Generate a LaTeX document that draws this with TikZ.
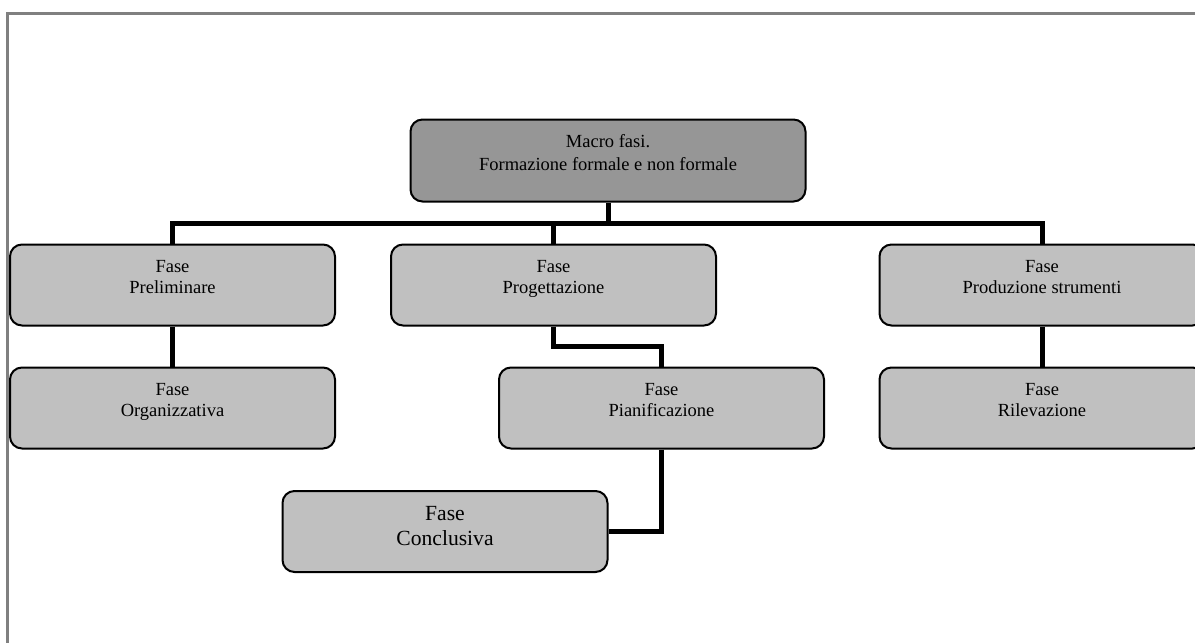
\documentclass[tikz,border=0pt]{standalone}
\usepackage{fontspec}
\setmainfont{Liberation Serif}
\definecolor{framegray}{HTML}{808080}
\definecolor{macrogray}{HTML}{969696}
\definecolor{boxgray}{HTML}{C0C0C0}
\begin{document}
\begin{tikzpicture}[x=1pt,y=-1pt,
  box/.style={draw=black, line width=2pt, rounded corners=12pt, fill=boxgray,
    minimum width=325pt, minimum height=81pt, inner sep=0pt},
  macrobox/.style={box, fill=macrogray, minimum width=395pt, minimum height=82pt},
  conn/.style={line width=5pt, draw=black},
  lbl/.style={align=center, inner sep=0pt, font=\fontsize{18.5}{21.3}\selectfont},
  biglbl/.style={align=center, inner sep=0pt, font=\fontsize{21.6}{25}\selectfont},
  macrolbl/.style={align=center, inner sep=0pt, font=\fontsize{18.5}{23.4}\selectfont}]
\useasboundingbox (0,0) rectangle (1195,643);
% outer frame
\draw[framegray, line width=3pt] (7.5,700) -- (7.5,13.5) -- (1260,13.5);
% boxes
\node[macrobox] (macro) at (608,160.5) {};
\node[box] (pre)   at (172.5,285) {};
\node[box] (prog)  at (553.5,285) {};
\node[box] (prod)  at (1042,285) {};
\node[box] (org)   at (172.5,408) {};
\node[box] (pian)  at (661.5,408) {};
\node[box] (ril)   at (1042,408) {};
\node[box] (concl) at (445,531.5) {};
% texts
\node[macrolbl] (macroT) at ([yshift=5.8pt]macro.center) {Macro fasi.\\Formazione formale e non formale\vphantom{g}};
\node[lbl] (preT)  at ([yshift=5.8pt]pre.center)  {Fase\\Preliminare\vphantom{g}};
\node[lbl] (progT) at ([yshift=5.8pt]prog.center) {Fase\\Progettazione\vphantom{g}};
\node[lbl] (prodT) at ([yshift=5.8pt]prod.center) {Fase\\Produzione strumenti\vphantom{g}};
\node[lbl] (orgT)  at ([yshift=5.8pt]org.center)  {Fase\\Organizzativa\vphantom{g}};
\node[lbl] (pianT) at ([yshift=5.8pt]pian.center) {Fase\\Pianificazione\vphantom{g}};
\node[lbl] (rilT)  at ([yshift=5.8pt]ril.center)  {Fase\\Rilevazione\vphantom{g}};
\node[biglbl] (conclT) at ([yshift=2.8pt]concl.center) {Fase\\Conclusiva\vphantom{g}};
% junction levels
\coordinate (bus) at (0,223.5);
\coordinate (j1) at (0,346.5);
% connectors
\draw[conn] (macro.south) -- (macro.south |- bus);
\draw[conn] (pre.north) |- (bus -| prod.north) -- (prod.north);
\draw[conn] (prog.north) -- (prog.north |- bus);
\draw[conn] (pre.south) -- (org.north);
\draw[conn] (prod.south) -- (ril.north);
\draw[conn] (prog.south) |- (j1 -| pian.north) -- (pian.north);
\draw[conn] (pian.south) |- (concl.east);
\end{tikzpicture}
\end{document}
